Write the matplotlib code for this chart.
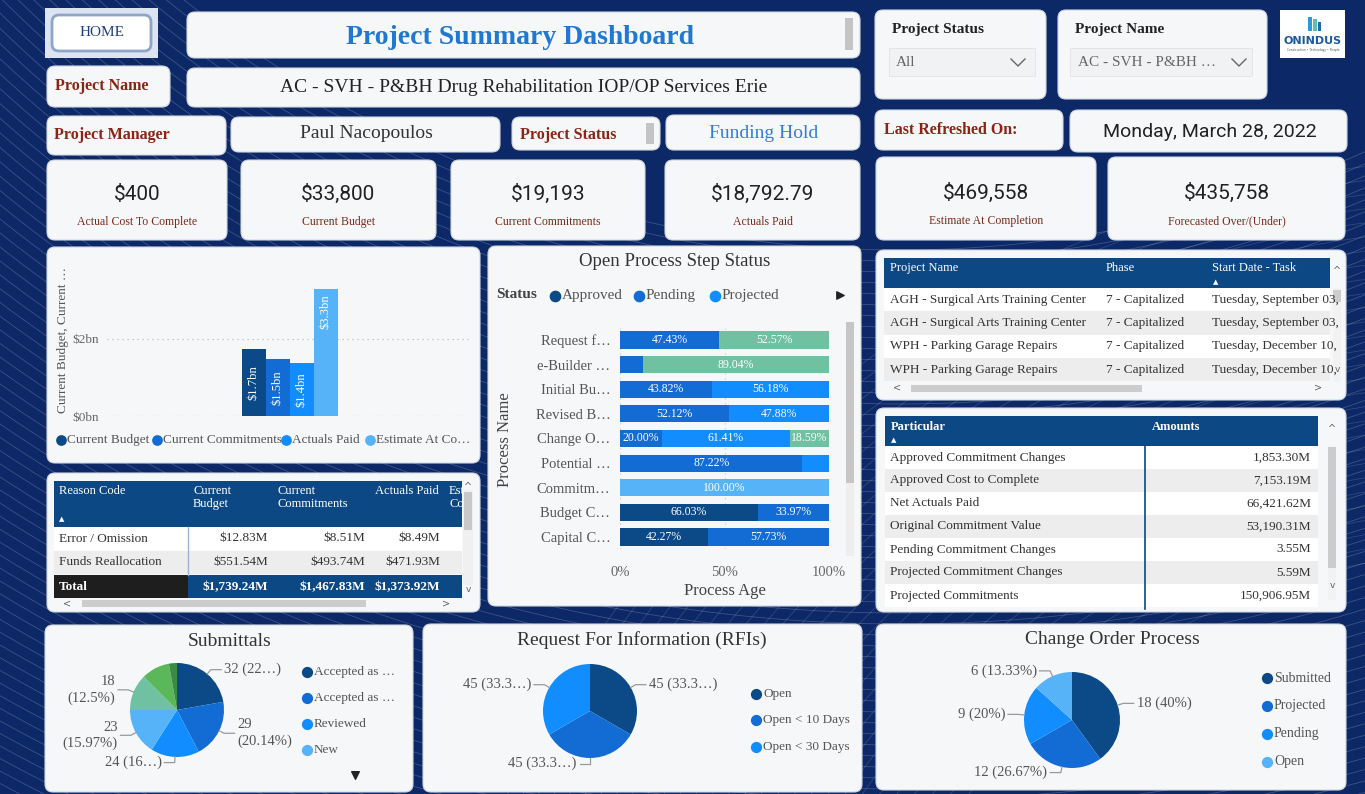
import numpy as np
import matplotlib
matplotlib.use("Agg")
import matplotlib.pyplot as plt
from matplotlib.patches import FancyBboxPatch, Rectangle

plt.rcParams['font.family'] = ['Liberation Serif', 'DejaVu Sans']
NUMF = ['Roboto', 'DejaVu Sans']

W, H = 1365, 794

# ---------------- data ----------------
page_title = "Project Summary Dashboard"
project_name = "AC - SVH - P&BH Drug Rehabilitation IOP/OP Services Erie"
project_manager = "Paul Nacopoulos"
project_status = "Funding Hold"
last_refreshed = "Monday, March 28, 2022"
slicer_status_value = "All"
slicer_name_value = "AC - SVH - P&BH …"

kpi_left_values = ["$400", "$33,800", "$19,193", "$18,792.79"]
kpi_left_labels = ["Actual Cost To Complete", "Current Budget", "Current Commitments", "Actuals Paid"]
kpi_right_values = ["$469,558", "$435,758"]
kpi_right_labels = ["Estimate At Completion", "Forecasted Over/(Under)"]

budget_series = ["Current Budget", "Current Commitments", "Actuals Paid", "Estimate At Co…"]
budget_values_bn = [1.74, 1.47, 1.37, 3.30]
budget_bar_labels = ["$1.7bn", "$1.5bn", "$1.4bn", "$3.3bn"]
budget_ticks = [0, 2]
budget_tick_labels = ["$0bn", "$2bn"]

process_names = ["Request f…", "e-Builder …", "Initial Bu…", "Revised B…", "Change O…",
                 "Potential …", "Commitm…", "Budget C…", "Capital C…"]
status_names = ["Approved", "Pending", "Projected", "Open", "Submitted"]
st_approved = [0, 0, 0, 0, 0, 0, 0, 66.03, 42.27]
st_pending = [47.43, 10.96, 43.82, 52.12, 20.00, 87.22, 0, 33.97, 57.73]
st_projected = [0, 0, 56.18, 47.88, 61.41, 12.78, 0, 0, 0]
st_open = [0, 0, 0, 0, 0, 0, 100.00, 0, 0]
st_submitted = [52.57, 89.04, 0, 0, 18.59, 0, 0, 0, 0]
process_ticks = [0, 50, 100]
process_tick_labels = ["0%", "50%", "100%"]

reason_headers = ["Reason Code", "Current\nBudget", "Current\nCommitments", "Actuals Paid", "Est\nCo"]
reason_codes = ["Error / Omission", "Funds Reallocation"]
reason_budget = ["$12.83M", "$551.54M"]
reason_commit = ["$8.51M", "$493.74M"]
reason_paid = ["$8.49M", "$471.93M"]
reason_total = ["Total", "$1,739.24M", "$1,467.83M", "$1,373.92M"]

proj_headers = ["Project Name", "Phase", "Start Date - Task"]
proj_names = ["AGH - Surgical Arts Training Center", "AGH - Surgical Arts Training Center",
              "WPH - Parking Garage Repairs", "WPH - Parking Garage Repairs"]
proj_phases = ["7 - Capitalized"] * 4
proj_dates = ["Tuesday, September 03,", "Tuesday, September 03,",
              "Tuesday, December 10,", "Tuesday, December 10,"]

part_headers = ["Particular", "Amounts"]
particulars = ["Approved Commitment Changes", "Approved Cost to Complete", "Net Actuals Paid",
               "Original Commitment Value", "Pending Commitment Changes",
               "Projected Commitment Changes", "Projected Commitments"]
part_amounts = ["1,853.30M", "7,153.19M", "66,421.62M", "53,190.31M", "3.55M", "5.59M", "150,906.95M"]

sub_names = ["Accepted as …", "Accepted as …", "Reviewed", "New", "Rejected", "Revise", "Closed"]
sub_values = [32, 29, 24, 23, 18, 14, 4]
sub_labels = ["32 (22…)", "29\n(20.14%)", "24 (16…)", "23\n(15.97%)", "18\n(12.5%)", "", ""]

rfi_names = ["Open", "Open < 10 Days", "Open < 30 Days"]
rfi_values = [45, 45, 45]
rfi_labels = ["45 (33.3…)", "45 (33.3…)", "45 (33.3…)"]

co_names = ["Submitted", "Projected", "Pending", "Open"]
co_values = [18, 12, 9, 6]
co_labels = ["18 (40%)", "12 (26.67%)", "9 (20%)", "6 (13.33%)"]

# ---------------- style ----------------
NAVY = '#0c2866'
C_DARK = '#0b4a86'
C_MID = '#136bd4'
C_BRIGHT = '#118dff'
C_LIGHT = '#56b3f7'
C_TEAL = '#6fc1a2'
C_GREEN = '#5bb85a'
C_DGREEN = '#3c8a46'
HDR = '#0b4884'
CARD = '#f6f7f9'
RED = '#8b2412'
GRAY = '#555555'

fig = plt.figure(figsize=(W / 100, H / 100), dpi=100, facecolor=NAVY)
bg = fig.add_axes([0, 0, 1, 1])
bg.set_xlim(0, W)
bg.set_ylim(H, 0)
bg.axis('off')


def px_rect(x, y, w, h):
    return [x / W, 1 - (y + h) / H, w / W, h / H]


# decorative swooshes
t = np.linspace(0, 2 * np.pi, 1200)
for r in np.arange(1150, 1950, 11):
    bg.plot(900 + r * np.cos(t), -900 + r * np.sin(t), color='white', lw=0.6, alpha=0.2, zorder=1)
for r in np.arange(700, 1100, 14):
    bg.plot(1500 + r * np.cos(t), 1250 + r * np.sin(t), color='white', lw=0.6, alpha=0.15, zorder=1)


def card(x0, y0, x1, y1, r=8, fc=CARD, ec='#d0d6e0', z=2, lw=0.8):
    p = FancyBboxPatch((x0, y0), x1 - x0, y1 - y0, boxstyle=f"round,pad=0,rounding_size={r}",
                       fc=fc, ec=ec, lw=lw, zorder=z)
    bg.add_patch(p)


def rect(x0, y0, x1, y1, fc, z=3, ec='none', lw=0):
    bg.add_patch(Rectangle((x0, y0), x1 - x0, y1 - y0, fc=fc, ec=ec, lw=lw, zorder=z))


def txt(x, y, s, size=10, color='#222', ha='left', va='center', weight='normal', family=None, z=5, **kw):
    return bg.text(x, y, s, fontsize=size, color=color, ha=ha, va=va, weight=weight,
                   family=family if family else plt.rcParams['font.family'], zorder=z, **kw)


# ---------------- header area ----------------
rect(45, 8, 158, 58, '#dce4f1', z=2)
card(52, 15, 151, 51, r=7, fc='white', ec='#8ea5c8', lw=2.0, z=3)
txt(102, 33, "HOME", 11, '#1f3f7a', ha='center')

card(187, 12, 860, 58)
txt(520, 38, page_title, 20, '#1f78d1', ha='center', weight='bold')
rect(845, 18, 853, 50, '#c4c4c4')

card(47, 66, 170, 107)
txt(55, 86, "Project Name", 11.5, RED, weight='bold')
card(187, 68, 860, 107)
txt(524, 88, project_name, 14, '#222', ha='center')

card(47, 116, 226, 155)
txt(54, 135, "Project Manager", 11.5, RED, weight='bold')
card(231, 117, 500, 152)
txt(366, 134, project_manager, 14, '#333', ha='center')
card(512, 117, 660, 150)
txt(520, 135, "Project Status", 11.5, RED, weight='bold')
rect(646, 123, 654, 144, '#c4c4c4')
card(666, 115, 860, 150)
txt(764, 133, project_status, 14, '#2f7ed8', ha='center')

left_kpi_boxes = [(47, 227), (241, 436), (451, 645), (665, 860)]
for (x0, x1), v, lab in zip(left_kpi_boxes, kpi_left_values, kpi_left_labels):
    card(x0, 160, x1, 240)
    txt((x0 + x1) / 2, 194, v, 15, '#222', ha='center', family=NUMF)
    txt((x0 + x1) / 2, 222, lab, 8.5, '#7a2a1a', ha='center')

# right header
card(875, 10, 1046, 99)
txt(892, 29, "Project Status", 11, '#222', weight='bold')
rect(889, 48, 1035, 76, '#f1f2f4', ec='#e3e3e3', lw=0.6)
txt(896, 62, slicer_status_value, 11, '#666')
bg.plot([1011, 1018, 1025], [59, 66, 59], color='#666', lw=1, zorder=5)

card(1058, 10, 1267, 99)
txt(1075, 29, "Project Name", 11, '#222', weight='bold')
rect(1070, 48, 1252, 76, '#f1f2f4', ec='#e3e3e3', lw=0.6)
txt(1078, 62, slicer_name_value, 11, '#666')
bg.plot([1232, 1239, 1246], [59, 66, 59], color='#666', lw=1, zorder=5)

rect(1280, 10, 1345, 58, 'white')
rect(1308, 17, 1312, 31, '#2a9ad8', z=4)
rect(1313, 19, 1317, 31, '#5cc0b8', z=4)
rect(1318, 22, 1321, 31, '#1d6bb5', z=4)
txt(1313, 41, "ONINDUS", 8, '#1b5aa0', ha='center', weight='bold', family=['DejaVu Sans'])
txt(1313, 50, "Construction • Technology • People", 2.2, '#555', ha='center', family=['DejaVu Sans'])

card(875, 110, 1063, 150)
txt(884, 130, "Last Refreshed On:", 11.5, RED, weight='bold')
card(1070, 110, 1347, 152)
txt(1210, 132, last_refreshed, 14, '#222', ha='center', family=NUMF)

right_kpi_boxes = [(876, 1096), (1108, 1345)]
for (x0, x1), v, lab in zip(right_kpi_boxes, kpi_right_values, kpi_right_labels):
    card(x0, 157, x1, 240)
    txt((x0 + x1) / 2, 193, v, 15, '#222', ha='center', family=NUMF)
    txt((x0 + x1) / 2, 221, lab, 8.5, '#7a2a1a', ha='center')

# ---------------- budget bar chart ----------------
card(47, 247, 480, 463)
budget_colors = [C_DARK, C_MID, C_BRIGHT, C_LIGHT]
axb = fig.add_axes(px_rect(107, 262, 363, 154))
xpos = np.arange(len(budget_values_bn))
axb.bar(xpos, budget_values_bn, width=1.0, color=budget_colors, zorder=3)
for xp, v, lab in zip(xpos, budget_values_bn, budget_bar_labels):
    yp = v - 0.6 if v > 2.5 else v / 2
    axb.text(xp, yp, lab, rotation=90, ha='center', va='center', color='white', fontsize=9)
axb.set_xlim(-6.1, 9.0)
axb.set_ylim(0, 4.0)
axb.set_yticks(budget_ticks)
axb.set_yticklabels(budget_tick_labels, fontsize=9.5, color='#666')
axb.set_xticks([])
axb.tick_params(length=0, pad=6)
axb.yaxis.grid(True, linestyle=(0, (1, 3)), color='#bbbbbb', lw=0.9)
axb.set_axisbelow(True)
for s in axb.spines.values():
    s.set_visible(False)
axb.patch.set_alpha(0)
txt(63, 340, "Current Budget, Current …", 9.5, GRAY, ha='center', rotation=90)
leg_x = [57, 153, 282, 366]
for lx, nm, c in zip(leg_x, budget_series, budget_colors):
    bg.scatter([lx + 4], [440], s=45, color=c, zorder=5)
    txt(lx + 10, 440, nm, 9.5, GRAY)

# ---------------- reason code table ----------------
card(47, 473, 480, 612)
rect(54, 481, 462, 527, HDR)
col_x = [54, 188, 273, 370, 444]
for cx, h in zip(col_x, reason_headers):
    tt = txt(cx + 5, 485, h, 9, 'white', va='top', linespacing=1.15)
    if cx == 444:
        tt.set_clip_path(Rectangle((444, 481), 18, 46, transform=bg.transData))
txt(62, 519, "▲", 5, 'white', ha='center', family=['DejaVu Sans'])
row_fc = ['white', '#ededed']
for i, (rc, b, c, p) in enumerate(zip(reason_codes, reason_budget, reason_commit, reason_paid)):
    y0 = 527 + i * 23.5
    rect(54, y0, 462, y0 + 23.5, row_fc[i % 2])
    yc = y0 + 11.5
    txt(59, yc, rc, 9.5, '#333')
    txt(268, yc, b, 9.5, '#333', ha='right')
    txt(365, yc, c, 9.5, '#333', ha='right')
    txt(440, yc, p, 9.5, '#333', ha='right')
rect(54, 575, 188, 598, '#1e1e1e')
rect(188, 575, 462, 598, HDR)
txt(59, 587, reason_total[0], 9.5, 'white', weight='bold')
for xr, v in zip([268, 365, 440], reason_total[1:]):
    txt(xr, 587, v, 9.5, 'white', ha='right', weight='bold')
bg.plot([188, 188], [527, 575], color='#9fb4d0', lw=1, zorder=4)
rect(463, 490, 473, 585, '#f0f0f0')
rect(464, 492, 472, 530, '#c8c8c8')
txt(468, 487, "^", 7, '#666', ha='center', family=['DejaVu Sans'])
txt(468, 589, "v", 6.5, '#666', ha='center', family=['DejaVu Sans'])
txt(67, 603, "<", 7, '#666', ha='center', family=['DejaVu Sans'])
rect(82, 600, 366, 607, '#cccccc')
txt(446, 604, ">", 7, '#666', ha='center', family=['DejaVu Sans'])

# ---------------- open process step status ----------------
card(488, 246, 861, 606)
txt(675, 261, "Open Process Step Status", 13.5, '#333', ha='center')
status_colors = [C_DARK, C_MID, C_BRIGHT, C_LIGHT, C_TEAL]
txt(496, 295, "Status", 11, '#444', weight='bold')
for lx, nm, c in zip([550, 634, 710], status_names[:3], status_colors[:3]):
    bg.scatter([lx + 5], [296], s=55, color=c, zorder=5)
    txt(lx + 12, 295, nm, 11, GRAY)
bg.scatter([840], [295], marker='>', s=28, color='#222', zorder=5)
axp = fig.add_axes(px_rect(620, 327.7, 209, 221.6))
ypos = np.arange(len(process_names))
left = np.zeros(len(process_names))
for series, c in zip([st_approved, st_pending, st_projected, st_open, st_submitted], status_colors):
    vals = np.array(series, dtype=float)
    axp.barh(ypos, vals, left=left, height=0.7, color=c, zorder=3)
    for yi, (l0, v) in enumerate(zip(left, vals)):
        if v >= 15:
            axp.text(l0 + v / 2, yi, f"{v:.2f}%", ha='center', va='center', color='white', fontsize=8.5, zorder=4)
    left += vals
axp.set_ylim(len(process_names) - 0.5, -0.5)
axp.set_xlim(0, 100)
axp.set_yticks(ypos)
axp.set_yticklabels(process_names, fontsize=10.5, color=GRAY)
axp.set_xticks(process_ticks)
axp.set_xticklabels(process_tick_labels, fontsize=10.5, color='#666')
axp.tick_params(axis='y', length=0, pad=7)
axp.tick_params(axis='x', length=0, pad=12)
axp.xaxis.grid(True, linestyle=(0, (1, 3)), color='#cccccc', lw=0.9)
axp.set_axisbelow(True)
for s in axp.spines.values():
    s.set_visible(False)
axp.patch.set_alpha(0)
txt(725, 591, "Process Age", 12, '#444', ha='center')
txt(505, 440, "Process Name", 12, '#444', ha='center', rotation=90)
rect(846, 322, 854, 556, '#eeeeee')
rect(846, 322, 854, 483, '#c6c6c6')

# ---------------- project table ----------------
card(876, 250, 1346, 400)
rect(884, 258, 1330, 288, HDR)
pcol_x = [884, 1100, 1206]
for cx, h in zip(pcol_x, proj_headers):
    txt(cx + 6, 268, h, 9, 'white')
txt(1216, 282, "▲", 5, 'white', ha='center', family=['DejaVu Sans'])
for i, row in enumerate(zip(proj_names, proj_phases, proj_dates)):
    y0 = 288 + i * 23.3
    rect(884, y0, 1330, y0 + 23.3, row_fc[i % 2])
    for cx, v in zip(pcol_x, row):
        tt = txt(cx + 6, y0 + 11.6, v, 9.5, '#333')
        tt.set_clip_path(Rectangle((884, 250), 446, 150, transform=bg.transData))
rect(1333, 288, 1341, 382, '#f2f2f2')
rect(1333, 290, 1341, 302, '#cccccc')
txt(1337, 271, "^", 7, '#666', ha='center', family=['DejaVu Sans'])
txt(1337, 369, "v", 6.5, '#666', ha='center', family=['DejaVu Sans'])
txt(897, 388, "<", 7, '#666', ha='center', family=['DejaVu Sans'])
rect(911, 385, 1142, 392, '#cccccc')
txt(1318, 388, ">", 7, '#666', ha='center', family=['DejaVu Sans'])

# ---------------- particular table ----------------
card(876, 408, 1346, 612)
rect(885, 416, 1318, 446, HDR)
txt(891, 427, part_headers[0], 9, 'white', weight='bold')
txt(1152, 427, part_headers[1], 9, 'white', weight='bold')
txt(894, 440, "▲", 5, 'white', ha='center', family=['DejaVu Sans'])
for i, (pn, am) in enumerate(zip(particulars, part_amounts)):
    y0 = 446 + i * 23.0
    rect(885, y0, 1318, y0 + 23.0, row_fc[i % 2])
    txt(890, y0 + 11.5, pn, 9.5, '#333')
    txt(1311, y0 + 11.5, am, 9.5, '#333', ha='right')
bg.plot([1145, 1145], [446, 609], color=HDR, lw=1.2, zorder=4)
rect(1328, 446, 1336, 600, '#f2f2f2')
rect(1328, 447, 1336, 568, '#cccccc')
txt(1332, 429, "^", 7, '#666', ha='center', family=['DejaVu Sans'])
txt(1332, 585, "v", 6.5, '#666', ha='center', family=['DejaVu Sans'])


# ---------------- pies ----------------
def draw_pie(cx, cy, R, values, colors, labels):
    L = 2.4
    S = 2 * L * R
    ax = fig.add_axes(px_rect(cx - S / 2, cy - S / 2, S, S))
    wedges, _ = ax.pie(values, colors=colors, startangle=90, counterclock=False, radius=1,
                       wedgeprops=dict(linewidth=0))
    ax.set_xlim(-L, L)
    ax.set_ylim(-L, L)
    ax.axis('off')
    for w, lab in zip(wedges, labels):
        if not lab:
            continue
        ang = np.deg2rad((w.theta1 + w.theta2) / 2)
        c, s = np.cos(ang), np.sin(ang)
        side = 1 if c > 0.05 else -1
        bx, by = 1.12 * c, 1.12 * s
        tx = bx + side * 0.22
        ax.plot([1.0 * c, bx, tx], [1.0 * s, by, by], color='#9a9a9a', lw=0.9)
        ax.text(tx + side * 0.06, by, lab, ha='left' if side > 0 else 'right', va='center',
                fontsize=10.5, color='#555', linespacing=1.3)
    return ax


def pie_legend(x, ys, names, colors, size=9.5):
    for y, nm, c in zip(ys, names, colors):
        bg.scatter([x], [y], s=50, color=c, zorder=5)
        txt(x + 7, y, nm, size, GRAY)


card(45, 625, 413, 792)
txt(230, 641, "Submittals", 14, '#333', ha='center')
sub_colors = [C_DARK, C_MID, C_BRIGHT, C_LIGHT, C_TEAL, C_GREEN, C_DGREEN]
draw_pie(177, 710, 47, sub_values, sub_colors, sub_labels)
pie_legend(307, [672, 698, 724, 750], sub_names[:4], sub_colors[:4])
bg.scatter([355], [775], marker='v', s=30, color='#222', zorder=5)

card(423, 624, 862, 792)
txt(642, 640, "Request For Information (RFIs)", 14, '#333', ha='center')
rfi_colors = [C_DARK, C_MID, C_BRIGHT]
draw_pie(590, 711, 47, rfi_values, rfi_colors, rfi_labels)
pie_legend(756, [694, 720, 747], rfi_names, rfi_colors)

card(876, 624, 1346, 790)
txt(1112, 640, "Change Order Process", 14, '#333', ha='center')
co_colors = [C_DARK, C_MID, C_BRIGHT, C_LIGHT]
draw_pie(1072, 720, 48, co_values, co_colors, co_labels)
pie_legend(1267, [678, 706, 734, 762], co_names, co_colors, size=10)

fig.savefig("out.png", dpi=100, facecolor=NAVY)
